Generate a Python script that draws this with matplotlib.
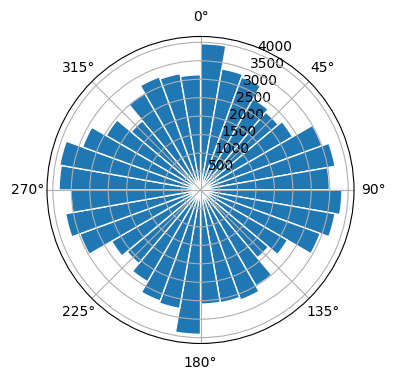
import numpy as np
import matplotlib
matplotlib.use("Agg")
import matplotlib.pyplot as plt

# direction bins, 10 degrees each, starting at north and going clockwise
bin_start_deg = list(range(0, 360, 10))
counts = [3960, 3330, 3250, 2850, 2750, 2880, 3500, 3700, 3490,
          3830, 3700, 3450, 2720, 2400, 3000, 3170, 3100, 3090,
          3910, 3260, 3200, 2870, 2600, 2780, 3480, 3710, 3510,
          3830, 3870, 3400, 2950, 2450, 3030, 3260, 3200, 3120]

theta = np.deg2rad(bin_start_deg)
width = np.deg2rad(10)

fig = plt.figure(figsize=(3.96, 3.8), dpi=100)
ax = fig.add_axes([0.1187, 0.0961, 0.7753, 0.8079], projection="polar")
ax.set_theta_zero_location("N")
ax.set_theta_direction(-1)

ax.bar(theta, counts, width=width, align="edge", edgecolor="white")

plt.savefig("out.png", dpi=100)
